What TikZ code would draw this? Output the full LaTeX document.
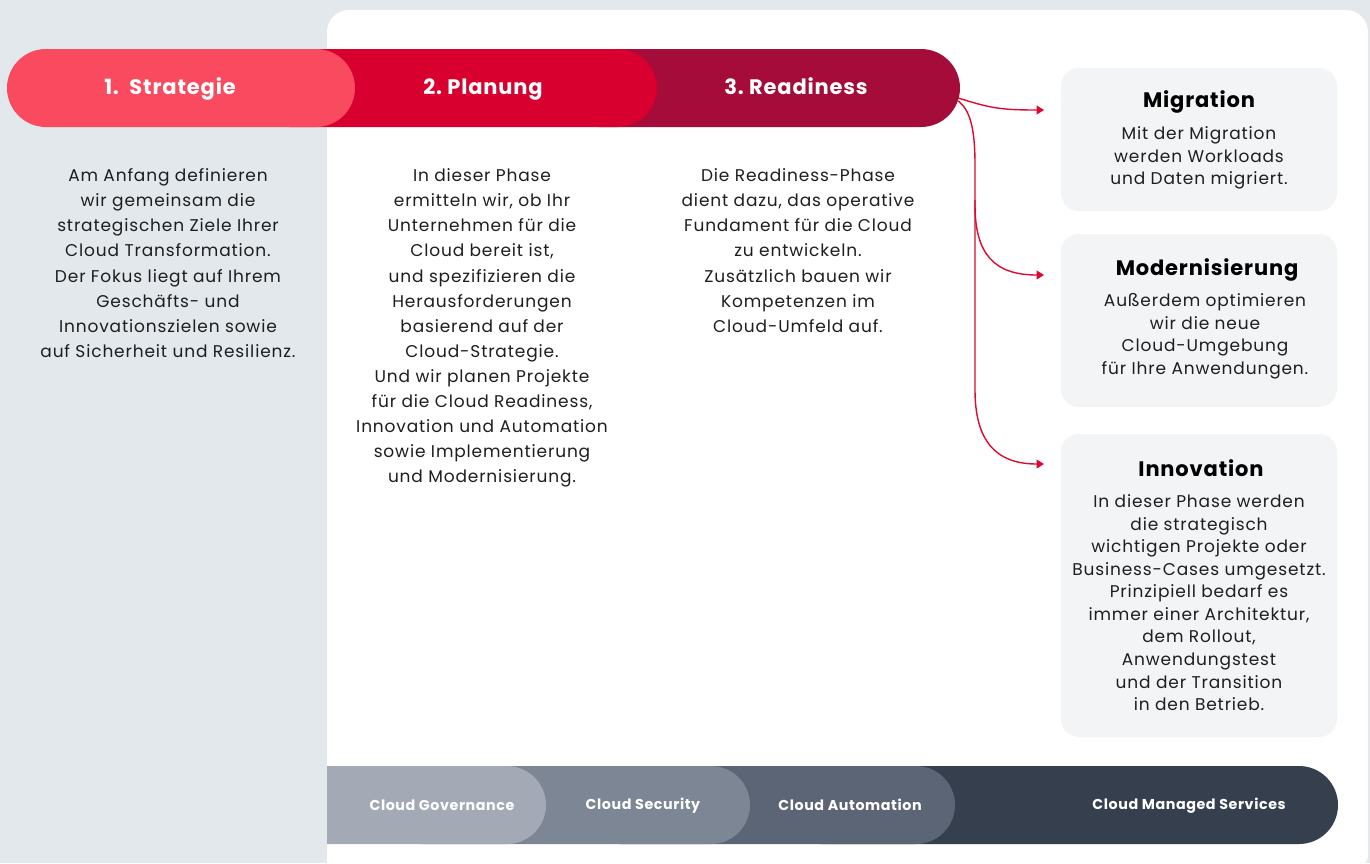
\documentclass[tikz,border=0pt]{standalone}
\usepackage{fontspec}
\setmainfont{Poppins}
\newfontfamily\bodyfont[LetterSpace=5]{Poppins}
\newfontfamily\headfont[LetterSpace=4]{Poppins}
\usetikzlibrary{shapes.misc,arrows.meta,calc}
\definecolor{bgc}{HTML}{E3E8EC}
\definecolor{pillA}{HTML}{F94A5F}
\definecolor{pillB}{HTML}{D7002F}
\definecolor{pillC}{HTML}{A50C3A}
\definecolor{arrowred}{HTML}{DC0A32}
\definecolor{boxfill}{HTML}{F3F4F6}
\definecolor{txt}{HTML}{1E1E1E}
\definecolor{barA}{HTML}{A3AAB5}
\definecolor{barB}{HTML}{7C8694}
\definecolor{barC}{HTML}{5B6575}
\definecolor{barD}{HTML}{353F4D}
\begin{document}
\begin{tikzpicture}[x=1pt,y=-1pt,
  pillshape/.style={rounded rectangle, minimum height=78pt, inner sep=0pt, draw=none},
  barshape/.style={rounded rectangle, rounded rectangle left arc=none, minimum height=78pt, inner sep=0pt, draw=none},
  pilltext/.style={text=white, font=\headfont\fontsize{21}{24}\selectfont\bfseries, inner sep=0pt, anchor=base},
  bartext/.style={text=white, font=\headfont\fontsize{14.3}{17}\selectfont\bfseries, inner sep=0pt, anchor=base},
  coltext/.style={align=center, text=txt, font=\bodyfont\fontsize{17}{25.1}\selectfont, inner sep=0pt, anchor=north},
  boxtext/.style={align=center, text=txt, font=\bodyfont\fontsize{17}{22.55}\selectfont, inner sep=0pt, anchor=north},
  boxtitle/.style={text=black, font=\headfont\fontsize{21}{24}\selectfont\bfseries, inner sep=0pt, anchor=base},
  infobox/.style={fill=boxfill, rounded corners=18pt, minimum width=276pt, inner sep=0pt, draw=none},
  conn/.style={draw=arrowred, line width=1.4pt, -{Triangle[length=7.5pt,width=9pt]}}
]
\useasboundingbox (0,0) rectangle (1370,863);
\fill[bgc] (0,0) rectangle (1370,863);
% white panel
\fill[white] (327,900) [rounded corners=22pt] -- (327,10) -- (1368,10) [rounded corners=10pt] -- (1368,866) [sharp corners] -- (327,866) -- cycle;

% top pills
\node[pillshape, fill=pillC, minimum width=400pt] (pill3) at (760,88) {};
\node[pillshape, fill=pillB, minimum width=407pt] (pill2) at (453.5,88) {};
\node[pillshape, fill=pillA, minimum width=348pt] (pill1) at (181,88) {};
\node[pilltext] (t1) at (170,94.5) {1.\ \ Strategie};
\node[pilltext] (t2) at (483,94.5) {2.\ Planung};
\node[pilltext] (t3) at (796,94.5) {3.\ Readiness};

% column texts
\node[coltext] (c1) at (168,168.5) {Am Anfang definieren\\wir gemeinsam die\\strategischen Ziele Ihrer\\Cloud Transformation.\\Der Fokus liegt auf Ihrem\\Geschäfts- und\\Innovationszielen sowie\\auf Sicherheit und Resilienz.};
\node[coltext] (c2) at (482,168.5) {In dieser Phase\\ermitteln wir, ob Ihr\\Unternehmen für die\\Cloud bereit ist,\\und spezifizieren die\\Herausforderungen\\basierend auf der\\Cloud-Strategie.\\Und wir planen Projekte\\für die Cloud Readiness,\\Innovation und Automation\\sowie Implementierung\\und Modernisierung.};
\node[coltext] (c3) at (798,168.5) {Die Readiness-Phase\\dient dazu, das operative\\Fundament für die Cloud\\zu entwickeln.\\Zusätzlich bauen wir\\Kompetenzen im\\Cloud-Umfeld auf.};

% right boxes
\node[infobox, minimum height=143pt] (mig) at (1199,139.5) {};
\node[infobox, minimum height=173pt] (mod) at (1199,320.5) {};
\node[infobox, minimum height=303pt] (inn) at (1199,585.5) {};
\node[boxtitle] (migt) at (1199,107.5) {Migration};
\node[boxtext] (migb) at (1199,126.5) {Mit der Migration\\werden Workloads\\und Daten migriert.};
\node[boxtitle] (modt) at (1207,275.5) {Modernisierung};
\node[boxtext] (modb) at (1205,293.5) {Außerdem optimieren\\wir die neue\\Cloud-Umgebung\\für Ihre Anwendungen.};
\node[boxtitle] (innt) at (1201,476.5) {Innovation};
\node[boxtext] (innb) at (1199,494.5) {In dieser Phase werden\\die strategisch\\wichtigen Projekte oder\\Business-Cases umgesetzt.\\Prinzipiell bedarf es\\immer einer Architektur,\\dem Rollout,\\Anwendungstest\\und der Transition\\in den Betrieb.};

% connectors
\coordinate (e1) at (1044,110);
\coordinate (e2) at (1044,275);
\coordinate (e3) at (1044,464);
\coordinate (s0) at ($(pill3.east)+(-2,10)$);
\coordinate (s1) at ($(pill3.east)+(-2,13)$);
\draw[conn] (s0) .. controls (990,108) and (1000,110) .. (e1);
\draw[conn] (s1) .. controls (970,110) and (975,128) .. (975,165) -- (975,205) .. controls (975,255) and (995,275) .. (e2);
\draw[conn] (975,200) -- (975,390) .. controls (975,440) and (995,464) .. (e3);

% bottom bar
\node[barshape, fill=barD, minimum width=518pt] (b4) at (1079,805) {};
\node[barshape, fill=barC, minimum width=335pt] (b3) at (787.5,805) {};
\node[barshape, fill=barB, minimum width=330pt] (b2) at (585,805) {};
\node[barshape, fill=barA, minimum width=219pt] (b1) at (436.5,805) {};
\node[bartext] (l1) at (442,810) {Cloud Governance};
\node[bartext] (l2) at (643,809) {Cloud Security};
\node[bartext] (l3) at (850,810) {Cloud Automation};
\node[bartext] (l4) at (1189,809) {Cloud Managed Services};
\end{tikzpicture}
\end{document}
